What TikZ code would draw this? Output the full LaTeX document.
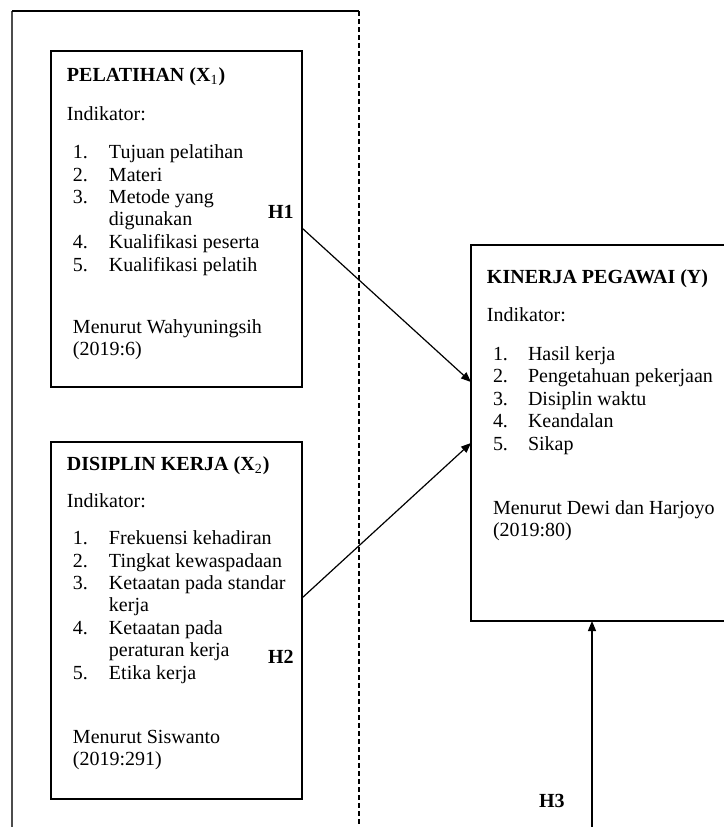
\documentclass[tikz,border=0pt]{standalone}
\usepackage{fontspec}
\setmainfont{Liberation Serif}
\usetikzlibrary{arrows.meta}
\newcommand{\txtline}[4]{\node[tx] (#1) at (#2,#3) {#4};}
\newcommand{\hdline}[4]{\node[hd] (#1) at (#2,#3) {#4};}
\begin{document}
\begin{tikzpicture}[x=0.5pt,y=-0.5pt,
  tx/.style={anchor=base west, inner sep=0pt, outer sep=0pt, font=\fontsize{10}{11.2}\selectfont},
  hd/.style={tx, font=\fontsize{10}{11.2}\selectfont\bfseries},
  varbox/.style={draw, line width=0.7pt, inner sep=0pt, outer sep=0pt},
  arr/.style={line width=0.6pt, -{Triangle[length=5pt,width=4pt]}},
  dashline/.style={line width=0.7pt, dash pattern=on 2.5pt off 1.5pt}]
\useasboundingbox (0,0) rectangle (724,827);
\clip (0,0) rectangle (724,827);
% outer frame
\coordinate (ftl) at (12,11);
\coordinate (fbl) at (12,830);
\coordinate (ftr) at (359,11);
\coordinate (fbr) at (359,830);
\draw[line width=1pt, black!70] (fbl) -- (ftl);
\draw[line width=0.7pt] (ftl) -- (ftr);
\draw[dashline] (ftr) -- (fbr);
% boxes
\node[varbox, minimum width=125.5pt, minimum height=168pt] (p1) at (176.5,219) {};
\node[varbox, minimum width=125.5pt, minimum height=178.5pt] (p2) at (176.5,620.5) {};
\node[varbox, minimum width=129.5pt, minimum height=188pt] (y) at (600.5,433) {};
% box 1 text
\hdline{p1h}{67}{81}{PELATIHAN (X\textsubscript{\mdseries 1})}
\txtline{p1i}{67}{120}{Indikator:}
\txtline{p1n1}{73}{158}{1.}\txtline{p1t1}{109}{158}{Tujuan pelatihan}
\txtline{p1n2}{73}{181}{2.}\txtline{p1t2}{109}{181}{Materi}
\txtline{p1n3}{73}{203}{3.}\txtline{p1t3}{109}{203}{Metode yang}
\txtline{p1t3b}{109}{225}{digunakan}
\txtline{p1n4}{73}{248}{4.}\txtline{p1t4}{109}{248}{Kualifikasi peserta}
\txtline{p1n5}{73}{271}{5.}\txtline{p1t5}{109}{271}{Kualifikasi pelatih}
\txtline{p1m}{73}{333}{Menurut Wahyuningsih}
\txtline{p1r}{73}{355}{(2019:6)}
% box 2 text
\hdline{p2h}{67}{470}{DISIPLIN KERJA (X\textsubscript{\mdseries 2})}
\txtline{p2i}{67}{507}{Indikator:}
\txtline{p2n1}{73}{544}{1.}\txtline{p2t1}{109}{544}{Frekuensi kehadiran}
\txtline{p2n2}{73}{567}{2.}\txtline{p2t2}{109}{567}{Tingkat kewaspadaan}
\txtline{p2n3}{73}{589}{3.}\txtline{p2t3}{109}{589}{Ketaatan pada standar}
\txtline{p2t3b}{109}{611}{kerja}
\txtline{p2n4}{73}{634}{4.}\txtline{p2t4}{109}{634}{Ketaatan pada}
\txtline{p2t4b}{109}{656}{peraturan kerja}
\txtline{p2n5}{73}{679}{5.}\txtline{p2t5}{109}{679}{Etika kerja}
\txtline{p2m}{73}{743}{Menurut Siswanto}
\txtline{p2r}{73}{765}{(2019:291)}
% box Y text
\hdline{yh}{487}{283}{KINERJA PEGAWAI (Y)}
\txtline{yi}{487}{321}{Indikator:}
\txtline{yn1}{493}{360}{1.}\txtline{yt1}{528}{360}{Hasil kerja}
\txtline{yn2}{493}{382}{2.}\txtline{yt2}{528}{382}{Pengetahuan pekerjaan}
\txtline{yn3}{493}{405}{3.}\txtline{yt3}{528}{405}{Disiplin waktu}
\txtline{yn4}{493}{427}{4.}\txtline{yt4}{528}{427}{Keandalan}
\txtline{yn5}{493}{450}{5.}\txtline{yt5}{528}{450}{Sikap}
\txtline{ym}{493}{514}{Menurut Dewi dan Harjoyo}
\txtline{yr}{493}{536}{(2019:80)}
% hypothesis labels
\hdline{h1}{268}{218}{H1}
\hdline{h2}{268}{663}{H2}
\hdline{h3}{539}{807}{H3}
% arrows
\draw[arr] ([yshift=-4.5pt]p1.east) -- ([yshift=25.5pt]y.west);
\draw[arr] ([yshift=11.25pt]p2.east) -- ([yshift=-5pt]y.west);
\coordinate (h3s) at (592,830);
\draw[arr] (h3s) -- (h3s |- y.south);
\end{tikzpicture}
\end{document}
